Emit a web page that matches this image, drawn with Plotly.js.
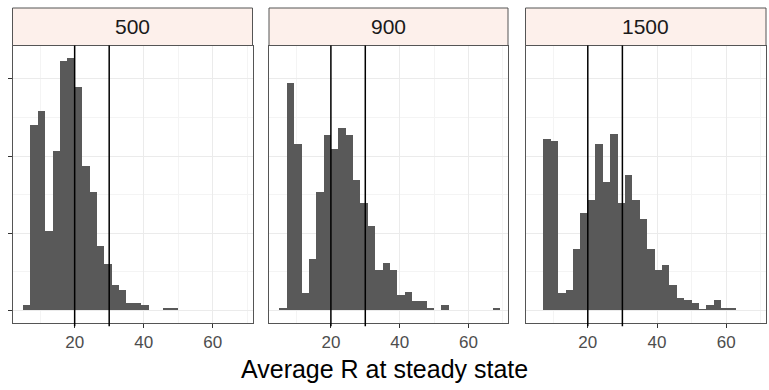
<!DOCTYPE html>
<html>
<head>
<meta charset="utf-8">
<script src="https://cdn.plot.ly/plotly-3.0.1.min.js"></script>
<style>html,body{margin:0;padding:0;background:#fff;}#chart{width:769px;height:390px;}</style>
</head>
<body>
<div id="chart"></div>
<script>
// Facet labels (population size)
const facets = ["500", "900", "1500"];
// Histogram settings
const binStart = 5.05;
const binWidth = 2.14;
// Counts per bin (30 bins) (arbitrary count units)
const counts500  = [6.5, 240, 259, 103, 206, 323, 327, 289, 187, 154, 83, 60, 33, 27, 10, 10, 6.5, 0, 0, 3, 3, 0, 0, 0, 0, 0, 0, 0, 0, 0];
const counts900  = [3, 295, 216, 23, 66, 154, 227, 209, 236, 227, 169, 139, 110, 53, 62, 53, 20, 24, 12, 12, 3, 0, 6.5, 0, 0, 0, 0, 0, 0, 3];
const counts1500 = [0, 222, 219, 23, 26, 79, 126, 143, 216, 166, 229, 139, 176, 143, 119, 79, 53, 59, 33, 16, 13, 10, 2, 6.5, 13, 3, 3, 0, 0, 0];
// Reference lines
const refLines = [20, 30];
// Axis ticks
const xTicks = [20, 40, 60];
const xTickLabels = ["20", "40", "60"];
const yTicks = [0, 100, 200, 300];
const xTitle = "Average R at steady state";

const allCounts = [counts500, counts900, counts1500];
const centers = counts500.map((_, i) => binStart + binWidth * (i + 0.5));

const W = 769, H = 390;
const px = v => v / W;
const py = v => 1 - v / H;
const domains = [[px(12.5), px(252.5)], [px(269), px(508)], [px(525.5), px(766)]];
const plotTop = 45.5, plotBottom = 323, stripTop = 8;

const xRange = [2.0, 71.5];
const yMax = 327;
const yRange = [-0.05 * yMax, 1.05 * yMax];

const traces = allCounts.map((c, k) => ({
  type: "bar",
  x: centers,
  y: c,
  width: binWidth,
  xaxis: k === 0 ? "x" : "x" + (k + 1),
  yaxis: k === 0 ? "y" : "y" + (k + 1),
  marker: {color: "#595959", line: {width: 0}},
  hoverinfo: "x+y",
  showlegend: false
}));

const layout = {
  width: W, height: H,
  margin: {l: 0, r: 0, t: 0, b: 0},
  paper_bgcolor: "#ffffff",
  plot_bgcolor: "#ffffff",
  bargap: 0,
  showlegend: false,
  shapes: [],
  annotations: []
};

for (let k = 0; k < 3; k++) {
  const s = k === 0 ? "" : String(k + 1);
  layout["xaxis" + s] = {
    domain: domains[k],
    range: xRange,
    anchor: "y" + s,
    tickmode: "array",
    tickvals: xTicks,
    ticktext: xTickLabels,
    ticks: "outside",
    ticklen: 4,
    tickwidth: 1,
    tickcolor: "#333333",
    tickfont: {family: "Liberation Sans, Arial, sans-serif", size: 17, color: "#4d4d4d"},
    showgrid: true,
    gridcolor: "#ebebeb",
    gridwidth: 1,
    minor: {tickmode: "array", tickvals: [10, 30, 50, 70], showgrid: true, gridcolor: "#f4f4f4", gridwidth: 1, ticks: ""},
    showline: true,
    mirror: true,
    linecolor: "#555555",
    linewidth: 1,
    zeroline: false,
    fixedrange: true
  };
  layout["yaxis" + s] = {
    domain: [py(plotBottom), py(plotTop)],
    range: yRange,
    anchor: "x" + s,
    tickmode: "array",
    tickvals: yTicks,
    showticklabels: false,
    ticks: k === 0 ? "outside" : "",
    ticklen: 4,
    tickcolor: "#333333",
    showgrid: true,
    gridcolor: "#ebebeb",
    gridwidth: 1,
    minor: {tickmode: "array", tickvals: [50, 150, 250], showgrid: true, gridcolor: "#f4f4f4", gridwidth: 1, ticks: ""},
    showline: true,
    mirror: true,
    linecolor: "#555555",
    linewidth: 1,
    zeroline: false,
    fixedrange: true
  };
  const xr = k === 0 ? "x" : "x" + (k + 1);
  // strip
  layout.shapes.push({
    type: "rect", xref: xr + " domain", yref: "paper",
    x0: 0, x1: 1, y0: py(plotTop), y1: py(stripTop),
    fillcolor: "#fdf0eb", line: {color: "#555555", width: 1}, layer: "above"
  });
  layout.annotations.push({
    xref: xr + " domain", yref: "paper",
    x: 0.5, y: py((plotTop + stripTop) / 2),
    text: facets[k], showarrow: false,
    xanchor: "center", yanchor: "middle",
    font: {family: "Liberation Sans, Arial, sans-serif", size: 21, color: "#1a1a1a"}
  });
  // reference lines
  refLines.forEach(v => {
    layout.shapes.push({
      type: "line", xref: xr, yref: "y" + s + " domain",
      x0: v, x1: v, y0: -0.012, y1: 1,
      line: {color: "#000000", width: 1.5}, layer: "above"
    });
  });
}

layout.annotations.push({
  xref: "paper", yref: "paper",
  x: 0.5, y: py(369),
  text: xTitle, showarrow: false,
  xanchor: "center", yanchor: "middle",
  font: {family: "Liberation Sans, Arial, sans-serif", size: 25, color: "#000000"}
});

Plotly.newPlot("chart", traces, layout, {displayModeBar: false, staticPlot: true});
</script>
</body>
</html>
